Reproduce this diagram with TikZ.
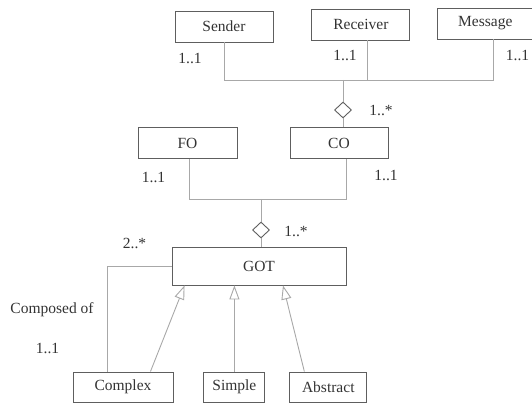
\documentclass[tikz,border=0pt]{standalone}
\usepackage{fontspec}
\setmainfont{Liberation Serif}
\usepackage{xcolor}
\usepackage{tikz}
\usetikzlibrary{positioning,arrows.meta,shapes.geometric}

\definecolor{boxline}{HTML}{5E5E5E}
\definecolor{linkline}{HTML}{A8A8A8}
\definecolor{txt}{HTML}{333333}

\begin{document}
\begin{tikzpicture}[
  x=1pt, y=-1pt,
  font=\fontsize{15.5pt}{18pt}\selectfont, text=txt,
  cls/.style={draw=boxline,line width=0.9pt,minimum width=98pt,minimum height=31pt,inner sep=0pt},
  link/.style={draw=linkline,line width=0.9pt},
  agg/.style={diamond,draw=boxline,line width=0.9pt,fill=white,minimum width=17pt,minimum height=16pt,inner sep=0pt},
  gen/.style={link,-{Triangle[open,length=14pt,width=10pt,line width=0.9pt]}},
  mult/.style={inner sep=0pt}
]
\useasboundingbox (0,0) rectangle (532,403);

% classes
\node[cls] (sender) at (224,26.5) {Sender};
\node[cls,right=38pt of sender,yshift=2pt] (receiver) {Receiver};
\node[cls,minimum width=95pt,right=27pt of receiver,yshift=1pt] (message) {Message};
\node[cls,minimum width=99pt] (fo) at (187.5,143) {FO};
\node[cls] (co) at (339,143) {CO};
\node[cls,minimum width=174pt,minimum height=38pt] (got) at (259,266) {GOT};
\node[cls,minimum width=100pt,minimum height=30pt] (complex) at (123,387) {Complex};
\node[cls,minimum width=61pt,minimum height=30pt,right=30pt of complex] (simple) {Simple};
\node[cls,minimum width=77pt,minimum height=30pt,right=24pt of simple] (abstract) {Abstract};

% aggregation diamonds
\node[agg] (agg1) at (343,110) {};
\node[agg] (agg2) at (261,230) {};
\coordinate (top) at (343,80);
\coordinate (mid) at (261,199);
\coordinate (rcvfoot) at ([xshift=7pt]receiver.south);
\coordinate (msgfoot) at ([xshift=8.5pt]message.south);
\coordinate (cofoot) at ([xshift=7pt]co.south);

% connectors
\draw[link] (sender.south) -- (sender.south |- top) -- (msgfoot |- top) -- (msgfoot);
\draw[link] (rcvfoot) -- (rcvfoot |- top);
\draw[link] (top) -- (agg1.north);
\draw[link] (agg1.south) -- (agg1.south |- co.north);
\draw[link] ([xshift=1.5pt]fo.south) -- ([xshift=1.5pt]fo.south |- mid) -- (cofoot |- mid) -- (cofoot);
\draw[link] (mid) -- (agg2.north);
\draw[link] (agg2.south) -- (agg2.south |- got.north);
\draw[link] (got.west) -| ([xshift=35pt]complex.north west);
\draw[gen] ([xshift=-23pt]complex.north east) -- ([xshift=13pt]got.south west);
\draw[gen] (simple.north) -- (simple.north |- got.south);
\draw[gen] ([xshift=15pt]abstract.north west) -- ([xshift=24pt]got.south);

% multiplicities
\node[mult] (m1) at (190,58) {1..1};
\node[mult] (m2) at (345,55) {1..1};
\node[mult] (m3) at (517.5,55) {1..1};
\node[mult] (m4) at (381,110) {1..*};
\node[mult] (m5) at (153.5,177) {1..1};
\node[mult] (m6) at (386,175.5) {1..1};
\node[mult] (m7) at (296,231) {1..*};
\node[mult] (m8) at (134.5,243) {2..*};
\node[mult] (comp) at (52,310) {Composed of};
\node[mult] (m9) at (47.5,348) {1..1};
\end{tikzpicture}
\end{document}
